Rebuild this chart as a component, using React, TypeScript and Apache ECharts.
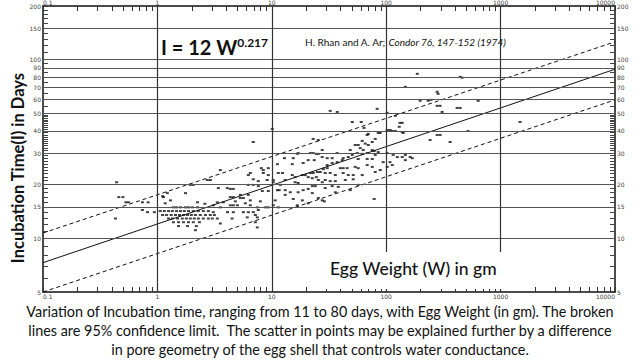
import React, { useEffect, useRef } from "react";
import * as echarts from "echarts";

// Axis values
const xTickLabels = [0.1, 1, 10, 100, 1000, 10000];
const yTickLabels = [5, 10, 15, 20, 30, 40, 50, 60, 70, 80, 90, 100, 150, 200];
const hGridValues = [10, 15, 20, 30, 40, 50, 60, 70, 80, 90, 100, 150];
const vGridValues = [1, 10, 100, 1000];

// Regression line I = 12 W^0.217 and 95% confidence limits (end points)
const fitLine = [[0.1, 7.3], [10000, 88.5]];
const upperLimit = [[0.1, 10.7], [10000, 126]];
const lowerLimit = [[0.1, 5.0], [10000, 59.6]];

// Observations [egg weight W (gm), incubation time I (days)]
const smallEggs = [
  [0.44, 20.6], [0.46, 17.0], [0.5, 17.0], [0.53, 15.9], [0.56, 15.9], [0.43, 12.9],
  [0.74, 15.9], [0.83, 15.9], [0.74, 14.4], [0.82, 14.0], [0.94, 14.0],
];
const eggs1to4 = [
  [1.38, 14.9], [1.47, 14.9], [1.59, 14.9], [1.76, 14.9], [1.87, 14.9], [2.02, 14.9], [2.24, 14.9],
  [1.06, 14.2], [1.15, 14.2], [1.25, 14.2], [1.35, 14.2], [1.47, 14.2], [1.59, 14.2], [1.72, 14.2],
  [1.87, 14.2], [2.06, 14.2], [2.28, 14.2], [2.52, 14.2], [2.79, 14.2],
  [1.11, 13.5], [1.2, 13.5], [1.32, 13.5], [1.44, 13.5], [1.56, 13.5], [1.69, 13.5], [1.83, 13.5],
  [1.98, 13.5], [2.15, 13.5], [2.37, 13.5], [2.63, 13.5], [2.9, 13.5], [3.15, 13.5],
  [1.25, 12.9], [1.35, 12.9], [1.5, 12.9], [1.65, 12.9], [1.79, 12.9], [1.94, 12.9], [2.1, 12.9],
  [2.28, 12.9], [2.52, 12.9], [2.79, 12.9], [3.02, 12.9],
  [1.38, 12.3], [1.53, 12.3], [1.69, 12.3], [1.87, 12.3], [2.06, 12.3], [2.33, 12.3],
  [1.53, 11.7], [1.83, 11.7], [2.19, 11.7], [2.15, 11.1],
  [1.13, 17.0], [1.22, 17.9], [1.3, 16.3], [1.76, 17.9], [2.06, 19.9], [2.24, 15.9], [1.17, 15.7],
  [1.11, 17.2], [1.94, 19.9], [3.34, 15.9], [3.77, 15.9], [3.08, 15.3], [3.55, 14.9], [3.08, 14.0],
  [3.34, 12.9], [3.55, 12.1], [2.73, 21.2], [2.9, 21.2], [3.55, 24.1], [3.41, 19.1], [2.6, 15.6],
];
const eggs4to10 = [
  [4.34, 17.0], [4.61, 17.0], [5.31, 16.8], [5.64, 16.8], [6.24, 17.5], [6.49, 16.3], [4.34, 15.3],
  [4.61, 15.3], [5.0, 15.3], [5.64, 14.0], [6.24, 14.0], [6.89, 14.0], [7.62, 14.4], [7.18, 13.5],
  [7.47, 13.1], [7.18, 12.3], [7.47, 11.5], [6.1, 13.1], [4.34, 18.9], [4.61, 18.9], [5.31, 17.5],
  [4.8, 16.1], [7.94, 16.1], [5.87, 15.7], [6.49, 15.3], [7.47, 14.9], [8.78, 14.9], [9.32, 14.9],
  [6.24, 19.9], [6.89, 19.9], [7.62, 19.6], [8.26, 18.4], [9.32, 18.4], [6.49, 23.2], [6.89, 21.4],
  [7.62, 20.9], [8.1, 24.7], [8.43, 24.1], [9.32, 24.7], [9.32, 22.6], [6.24, 22.6], [8.43, 23.2],
  [9.1, 21.2], [6.89, 34.6], [4.1, 14.0], [4.61, 14.0], [4.5, 12.9], [4.08, 19.1],
];
const eggs10to30 = [
  [10.1, 41.0], [10.3, 21.2], [23.0, 36.0], [25.5, 35.5], [16.7, 29.7], [17.0, 30.0], [15.4, 28.1],
  [21.7, 30.0], [23.0, 30.0], [24.5, 29.7], [25.5, 29.7], [27.6, 31.2], [27.6, 28.5], [20.8, 27.4],
  [23.5, 27.4], [18.8, 26.4], [12.9, 28.1], [15.1, 26.0], [11.2, 26.0], [11.4, 23.2], [12.4, 23.2],
  [15.1, 22.6], [16.0, 22.0], [18.5, 22.6], [19.6, 22.6], [21.7, 23.2], [23.0, 23.2], [25.0, 23.5],
  [26.5, 23.5], [28.2, 24.4], [20.8, 22.0], [22.6, 21.7], [24.5, 22.0], [25.5, 21.2], [27.6, 20.6],
  [29.3, 21.2], [16.0, 20.6], [17.0, 20.4], [13.1, 21.2], [10.3, 20.6], [11.9, 19.9], [11.2, 18.6],
  [11.6, 18.6], [13.1, 18.6], [14.5, 18.1], [17.0, 18.1], [18.8, 18.6], [20.8, 18.9], [22.6, 19.6],
  [24.0, 19.6], [29.3, 19.1], [13.1, 17.5], [10.7, 16.3], [15.4, 16.6], [18.5, 16.3], [16.7, 15.3],
  [25.5, 16.8], [22.6, 17.9], [27.6, 16.3], [28.8, 16.1], [20.8, 15.7], [10.3, 15.3], [11.4, 14.9],
];
const eggs30to170 = [
  [32.4, 51.7], [37.3, 51.0], [83.4, 53.1], [102, 50.4], [120, 48.5], [50.5, 44.8], [60.5, 44.8],
  [64, 41.5], [68.2, 37.9], [69.7, 38.4], [85.2, 38.9], [88.6, 38.9], [102, 40.4], [108, 40.4],
  [113, 39.9], [120, 39.9], [130, 42.1], [132, 44.3], [138, 39.4], [141, 38.9], [61.7, 35.1],
  [75.5, 34.6], [80.2, 36.0], [53.6, 33.3], [56.9, 33.3], [65.6, 33.9], [69.7, 33.3], [48.5, 31.2],
  [59.3, 32.0], [63, 31.2], [75.5, 31.2], [78.5, 30.8], [85.2, 30.4], [37.3, 30.0], [50.5, 29.3],
  [55.8, 30.0], [102, 30.0], [115, 29.3], [125, 28.5], [147, 29.3], [162, 28.5], [30.5, 28.1],
  [33.7, 28.1], [42.1, 28.1], [46.6, 28.5], [56.9, 27.8], [68.2, 27.8], [75.5, 27.8], [30.5, 25.7],
  [33.7, 26.4], [37.3, 26.7], [41.3, 27.4], [61.7, 29.7], [68.2, 30.0], [80.2, 29.3], [94.1, 26.7],
  [108, 26.7], [138, 28.5], [147, 27.4], [169, 28.1], [39.7, 24.7], [42.1, 24.7], [45.6, 24.7],
  [53.6, 25.1], [56.9, 24.7], [68.2, 25.7], [75.5, 25.1], [102, 25.1], [113, 25.7], [30.5, 24.7],
  [29.3, 23.2], [32.4, 23.2], [35.9, 22.6], [42.1, 23.2], [46.6, 22.6], [51.5, 22.6], [61.7, 22.6],
  [80.2, 23.5], [88.6, 24.1], [32.4, 20.9], [35.9, 20.9], [43.9, 21.2], [51.5, 21.4], [56.9, 19.9],
  [33.7, 19.6], [38.1, 19.4], [48.5, 18.6], [35.9, 18.1], [78.5, 16.6], [147, 70.5],
];
const eggsOver170 = [
  [187, 83.4], [443, 80.2], [461, 79.3], [279, 66.1], [284, 64.4], [198, 58.9], [233, 58.9],
  [247, 59.6], [279, 55.2], [296, 55.2], [308, 51.0], [417, 53.7], [443, 53.7], [636, 58.9],
  [138, 44.3], [1480, 44.8], [520, 39.9], [279, 37.9], [296, 37.9], [362, 34.6], [242, 35.5],
];

const captionLines = [
  "Variation of Incubation time, ranging from 11 to 80 days, with Egg Weight (in gm). The broken",
  "lines are 95% confidence limit.  The scatter in points may be explained further by a difference",
  "in pore geometry of the egg shell that controls water conductance.",
];

function buildXTicks() {
  const out: number[] = [];
  [0.1, 1, 10, 100, 1000].forEach((d) => {
    for (let k = 1; k <= 9; k++) out.push(+(d * k).toPrecision(6));
  });
  out.push(10000);
  return out;
}
function buildYTicks() {
  const out: number[] = [];
  for (let v = 5; v <= 50; v++) out.push(v);
  for (let v = 55; v <= 100; v += 5) out.push(v);
  for (let v = 110; v <= 200; v += 10) out.push(v);
  return out;
}

const fmt = (v: number) => (v < 1 ? "0.1" : String(Math.round(v)));

export default function App() {
  const ref = useRef<HTMLDivElement>(null);
  useEffect(() => {
    if (!ref.current) return;
    const chart = echarts.init(ref.current, undefined, { renderer: "svg" });
    const xTicks = buildXTicks();
    const yTicks = buildYTicks();
    const xAxisBase = (position: string) => ({
      type: "log",
      logBase: 10,
      min: 0.1,
      max: 10000,
      position,
      axisLine: { show: true, lineStyle: { color: "#111", width: 1.5 } },
      axisTick: { show: true, inside: true, length: 5, customValues: xTicks, lineStyle: { color: "#333", width: 1 } },
      axisLabel: {
        show: true,
        fontSize: 6,
        color: "#444",
        margin: 1,
        customValues: xTickLabels,
        formatter: fmt,
        fontFamily: "DejaVu Sans",
        alignMinLabel: "left",
        alignMaxLabel: "right",
      },
      splitLine: { show: false },
      minorTick: { show: false },
    });
    const yAxisBase = (position: string) => ({
      type: "log",
      logBase: 10,
      min: 5,
      max: 200,
      position,
      axisLine: { show: true, lineStyle: { color: "#111", width: 1.5 } },
      axisTick: { show: true, inside: true, length: 5, customValues: yTicks, lineStyle: { color: "#444", width: 1 } },
      axisLabel: { show: true, fontSize: 6, color: "#444", margin: 2, customValues: yTickLabels, formatter: fmt, fontFamily: "DejaVu Sans" },
      splitLine: { show: false },
      minorTick: { show: false },
    });
    const allPoints = [...smallEggs, ...eggs1to4, ...eggs4to10, ...eggs10to30, ...eggs30to170, ...eggsOver170];
    chart.setOption({
      animation: false,
      backgroundColor: "#fff",
      grid: { left: 43, right: 25, top: 6, bottom: 68, containLabel: false, outerBoundsMode: "none" },
      xAxis: [xAxisBase("bottom"), xAxisBase("top")],
      yAxis: [yAxisBase("left"), yAxisBase("right")],
      series: [
        {
          type: "line",
          data: fitLine,
          showSymbol: false,
          symbol: "none",
          lineStyle: { color: "#111", width: 1 },
          silent: true,
          z: 3,
          markLine: {
            silent: true,
            symbol: "none",
            label: { show: false },
            lineStyle: { color: "#555", width: 1, type: "solid" },
            data: [
              ...hGridValues.map((v) => ({ yAxis: v })),
              ...vGridValues.map((v) => ({ xAxis: v, lineStyle: { color: "#333", width: 1.2, type: "solid" } })),
            ],
          },
        },
        {
          type: "line",
          data: upperLimit,
          symbol: "none",
          lineStyle: { color: "#111", width: 1, type: [4, 3] },
          silent: true,
          z: 3,
        },
        {
          type: "line",
          data: lowerLimit,
          symbol: "none",
          lineStyle: { color: "#111", width: 1, type: [4, 3] },
          silent: true,
          z: 3,
        },
        {
          type: "scatter",
          data: allPoints,
          symbol: "rect",
          symbolSize: [3, 2],
          itemStyle: { color: "#111" },
          silent: true,
          z: 4,
        },
      ],
      graphic: [
        {
          type: "rect",
          shape: { x: 322, y: 252, width: 184, height: 37 },
          style: { fill: "#fff" },
          z: 50,
        },
        {
          type: "text",
          x: 330,
          y: 268,
          style: { text: "Egg Weight (W) in gm", font: "500 17.5px Lato", fill: "#111", verticalAlign: "middle" },
          z: 51,
        },
        {
          type: "text",
          x: 18,
          y: 168,
          rotation: Math.PI / 2,
          style: { text: "Incubation Time(I) in Days", font: "bold 16.5px Lato", fill: "#111", align: "center", verticalAlign: "middle" },
          z: 51,
        },
        {
          type: "text",
          x: 161,
          y: 36,
          style: {
            text: "{a|I = 12 W}{b|0.217}",
            rich: {
              a: { fontSize: 20, fontWeight: "bold", fontFamily: "Lato", fill: "#111", lineHeight: 22 },
              b: { fontSize: 12, fontWeight: "bold", fontFamily: "Lato", fill: "#111", verticalAlign: "top", lineHeight: 12 },
            },
          },
          z: 51,
        },
        {
          type: "text",
          x: 305,
          y: 42,
          style: {
            text: "{n|H. Rhan and A. Ar; }{i|Condor 76, 147-152 (1974)}",
            verticalAlign: "middle",
            rich: {
              n: { fontSize: 10, fontFamily: "Lato", fill: "#111" },
              i: { fontSize: 10, fontFamily: "Lato", fontStyle: "italic", fill: "#111" },
            },
          },
          z: 51,
        },
        ...captionLines.map((line, i) => ({
          type: "text",
          x: 320,
          y: 311 + i * 19,
          style: { text: line, font: "14.4px Lato", fill: "#111", align: "center", verticalAlign: "middle" },
          z: 51,
        })),
      ],
    });
    return () => chart.dispose();
  }, []);
  return <div ref={ref} style={{ position: "fixed", left: 0, top: 0, width: 640, height: 360, background: "#fff" }} />;
}
